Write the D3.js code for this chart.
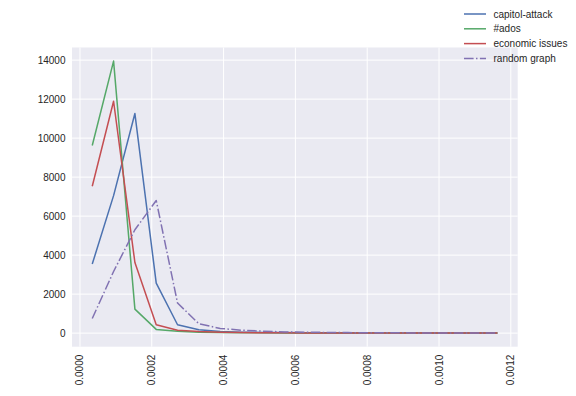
<!DOCTYPE html>
<html><head><meta charset="utf-8">
<script src="https://cdn.jsdelivr.net/npm/d3@7"></script>
<style>body{margin:0;background:#fff}svg{display:block}text{font-family:"Liberation Sans",Arial,sans-serif}</style>
</head><body>
<svg id="c" width="576" height="396"></svg>
<script>
const xValues = [0.0000342,0.0000936,0.000153,0.0002124,0.0002718,0.0003312,0.0003906,0.00045,0.0005094,0.0005688,0.0006282,0.0006876,0.000747,0.0008064,0.0008658,0.0009252,0.0009846,0.001044,0.0011034,0.0011628];
const seriesNames = ["capitol-attack","#ados","economic issues","random graph"];
const capitolAttack = [3540,7050,11260,2560,430,170,80,50,35,25,20,15,12,10,8,6,5,4,3,2];
const ados = [9620,13950,1230,190,90,50,30,20,15,10,8,6,5,4,3,3,2,2,1,1];
const economicIssues = [7530,11890,3620,430,150,80,50,30,20,15,12,10,8,6,5,4,3,3,2,2];
const randomGraph = [750,3160,5300,6800,1540,480,240,150,100,60,45,35,25,20,15,12,10,8,6,5];
const xTicks = [0,0.0002,0.0004,0.0006,0.0008,0.0010,0.0012];
const yTicks = [0,2000,4000,6000,8000,10000,12000,14000];

const colors = ["#4C72B0","#55A868","#C44E52","#8172B2"];
const dashes = [null,null,null,"9.6,2.4,1.5,2.4"];
const allSeries = [capitolAttack, ados, economicIssues, randomGraph];

const svg = d3.select("#c");
const L=72, R=517.7, T=47.5, B=346.7;
const x = d3.scaleLinear().domain([-0.0000222,0.0012192]).range([L,R]);
const y = d3.scaleLinear().domain([-697,14647]).range([B,T]);

svg.append("rect").attr("x",L).attr("y",T).attr("width",R-L).attr("height",B-T).attr("fill","#EAEAF2");

const g = svg.append("g");
g.selectAll(".gx").data(xTicks).join("line")
  .attr("x1",d=>x(d)).attr("x2",d=>x(d)).attr("y1",T).attr("y2",B)
  .attr("stroke","#fff").attr("stroke-width",1);
g.selectAll(".gy").data(yTicks).join("line")
  .attr("y1",d=>y(d)).attr("y2",d=>y(d)).attr("x1",L).attr("x2",R)
  .attr("stroke","#fff").attr("stroke-width",1);

// y tick labels
svg.append("g").selectAll("text").data(yTicks).join("text")
  .attr("x",L-6.5).attr("y",d=>y(d)).attr("dy","0.35em")
  .attr("text-anchor","end").attr("font-size",10).attr("fill","#262626")
  .text(d=>d3.format("d")(d));

// x tick labels rotated
svg.append("g").selectAll("text").data(xTicks).join("text")
  .attr("transform",d=>`translate(${x(d)},${B+8}) rotate(-90)`)
  .attr("dy","0.35em").attr("text-anchor","end").attr("font-size",10).attr("fill","#262626")
  .text(d=>d3.format(".4f")(d));

const line = d3.line().x((d,i)=>x(xValues[i])).y(d=>y(d));
allSeries.forEach((s,k)=>{
  svg.append("path").datum(s).attr("d",line).attr("fill","none")
    .attr("stroke",colors[k]).attr("stroke-width",1.5)
    .attr("stroke-dasharray",dashes[k]).attr("stroke-linejoin","round").attr("stroke-linecap","butt");
});

// legend
const lg = svg.append("g");
seriesNames.forEach((n,k)=>{
  const yy = 14 + k*14.8;
  lg.append("line").attr("x1",464).attr("x2",486).attr("y1",yy).attr("y2",yy)
    .attr("stroke",colors[k]).attr("stroke-width",1.5).attr("stroke-dasharray",dashes[k]);
  lg.append("text").attr("x",493.5).attr("y",yy).attr("dy","0.35em")
    .attr("font-size",10).attr("fill","#262626").text(n);
});
</script>
</body></html>
